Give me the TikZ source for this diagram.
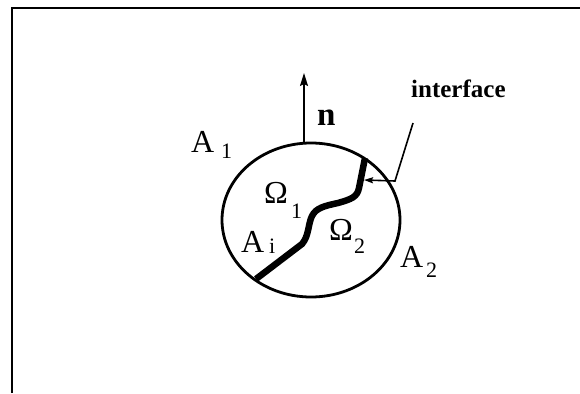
\documentclass[tikz,border=0pt]{standalone}
\usepackage{fontspec}
\setmainfont{Liberation Serif}
\usetikzlibrary{arrows.meta,shapes.geometric}
\tikzset{
  lbl/.style={inner sep=0pt, anchor=base west, font=\fontsize{32}{32}\selectfont},
  sub/.style={inner sep=0pt, anchor=base west, font=\fontsize{22}{22}\selectfont},
  frameline/.style={line width=2.5pt},
  thin/.style={line width=1.6pt},
}
\begin{document}
\begin{tikzpicture}[x=1pt,y=-1pt]
\useasboundingbox (0,0) rectangle (580,393);
% frame (top and left only)
\draw[frameline] (12,393) -- (12,8) -- (580,8);
% domain
\node[draw, line width=2.8pt, ellipse, minimum width=178pt, minimum height=154pt, inner sep=0pt] (dom) at (311,220) {};
% interface curve
\coordinate (ia) at (256,279);
\coordinate (ib) at (365,158);
\draw[line width=6.5pt] (ia) -- (302,244) .. controls (309,236) and (308,224) .. (312,216)
  .. controls (316,208) and (324,206) .. (338,203) .. controls (352,199) and (357,197) .. (359,188) -- (ib);
% normal arrow
\coordinate (ntop) at (304,73);
\draw[thin, -{Stealth[length=13pt,width=8pt,inset=2pt]}] (dom.north -| ntop) -- (ntop);
% interface pointer
\coordinate (p0) at (413,123);
\coordinate (p1) at (395,181);
\coordinate (ptip) at (364,180);
\draw[thin, -{Stealth[length=9pt,width=6pt,inset=1.5pt]}] (p0) -- (p1) -- (ptip);
% labels
\node[lbl, font=\fontsize{33}{33}\selectfont\bfseries] (n) at (317,125) {n};
\node[lbl, font=\fontsize{25}{25}\selectfont\bfseries] (itf) at (411,98) {interface};
\node[lbl] (A1) at (191,152) {A};
\node[sub] (A1s) at (221,158) {1};
\node[lbl] (O1) at (264,203) {Ω};
\node[sub] (O1s) at (291,218) {1};
\node[lbl] (Ai) at (241,252) {A};
\node[sub] (Ais) at (269,253) {i};
\node[lbl] (O2) at (329,240) {Ω};
\node[sub] (O2s) at (354,253) {2};
\node[lbl] (A2) at (400,267) {A};
\node[sub] (A2s) at (426,277) {2};
\end{tikzpicture}
\end{document}
